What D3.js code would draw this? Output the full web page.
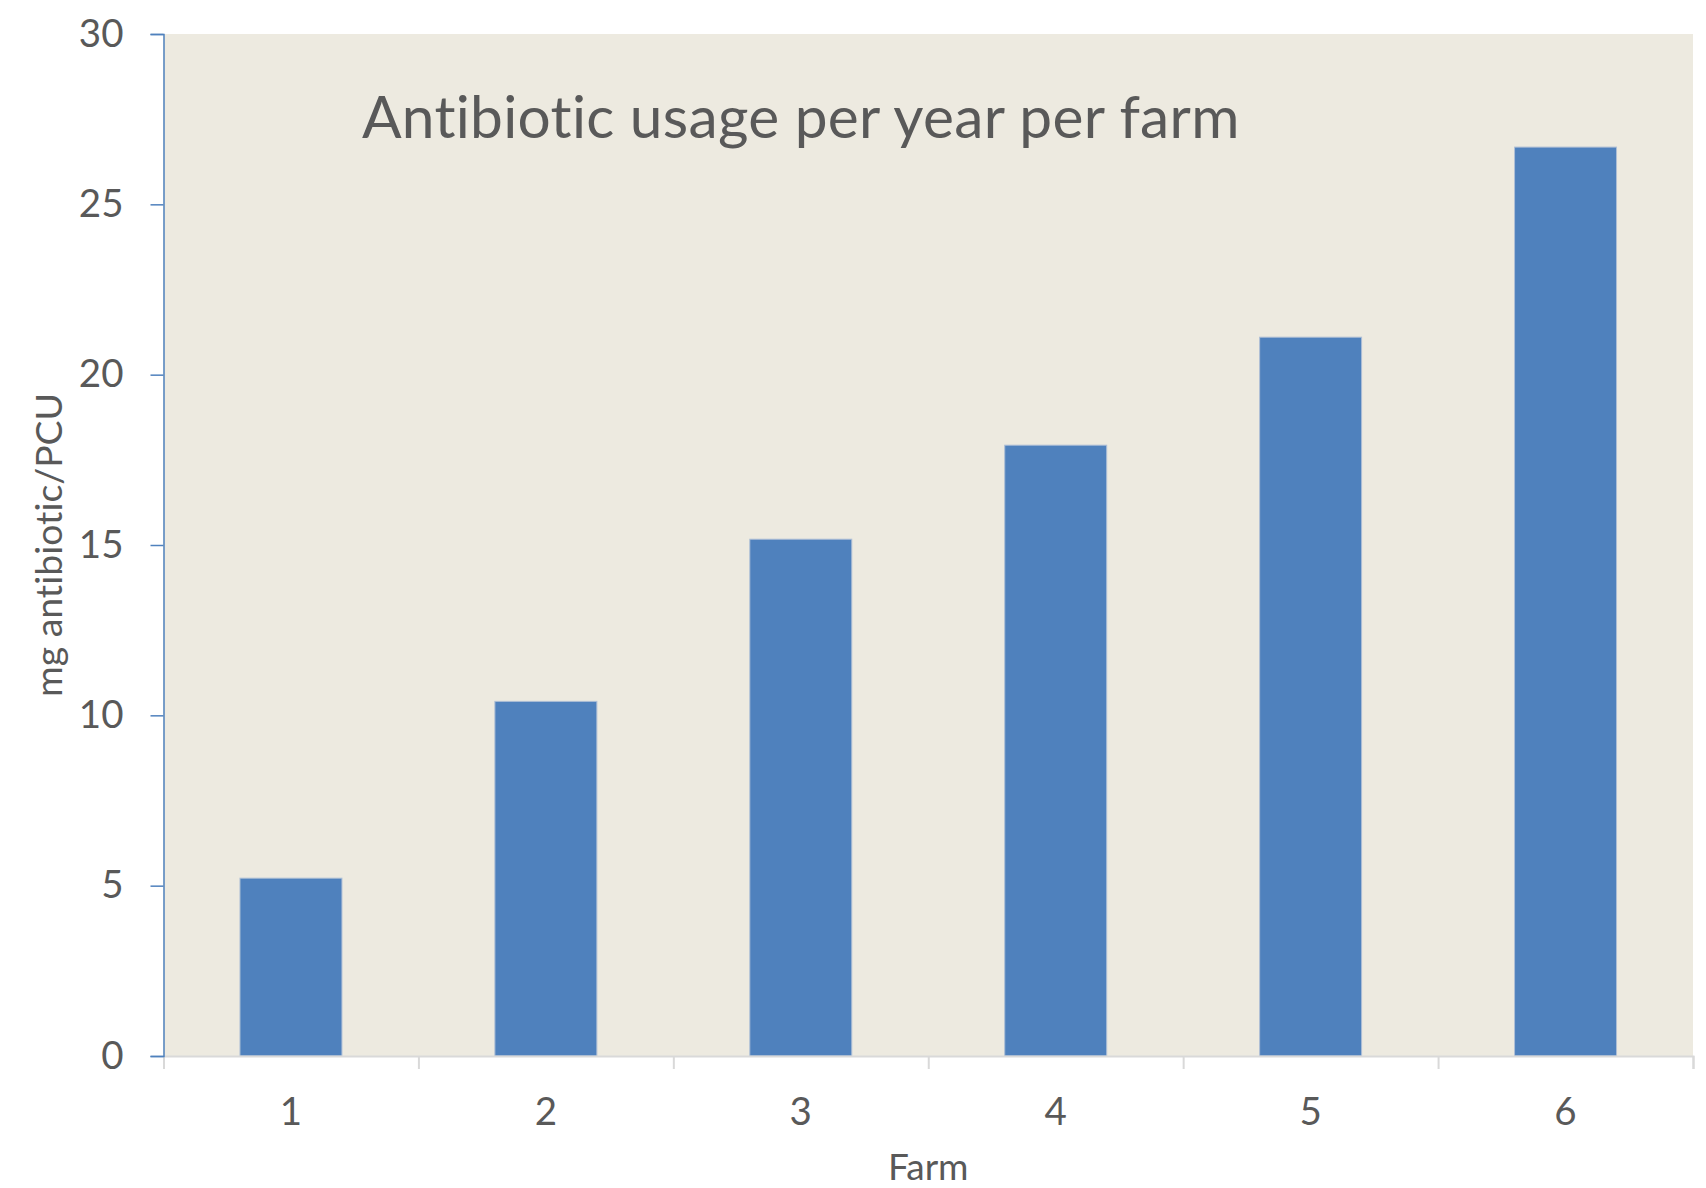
<!DOCTYPE html>
<html>
<head>
<meta charset="utf-8">
<script src="https://cdn.jsdelivr.net/npm/d3@7"></script>
<style>
  body { margin: 0; background: #fff; }
  text { font-family: Lato, "Open Sans", sans-serif; fill: #595959; font-variant-ligatures: none; }
</style>
</head>
<body>
<div id="chart"></div>
<script>
// chart data
const farms = ["1", "2", "3", "4", "5", "6"];
const usage = [5.22, 10.41, 15.17, 17.93, 21.10, 26.68];
const yTicks = [0, 5, 10, 15, 20, 25, 30];

const width = 1706, height = 1188;
const plot = { left: 163.5, right: 1693, top: 34, bottom: 1056 };

const svg = d3.select("#chart")
    .append("svg")
    .attr("width", width)
    .attr("height", height);

// plot area background
svg.append("rect")
    .attr("x", plot.left)
    .attr("y", plot.top)
    .attr("width", plot.right - plot.left)
    .attr("height", plot.bottom - plot.top)
    .attr("fill", "#EDEAE0");

const x = d3.scaleBand()
    .domain(farms)
    .range([plot.left, plot.right])
    .paddingInner(0.6)
    .paddingOuter(0.3);

const y = d3.scaleLinear()
    .domain([0, 30])
    .range([plot.bottom, plot.top]);

// bars
svg.append("g")
    .selectAll("rect")
    .data(usage)
    .join("rect")
    .attr("x", (d, i) => x(farms[i]))
    .attr("y", d => y(d))
    .attr("width", x.bandwidth())
    .attr("height", d => y(0) - y(d))
    .attr("fill", "#4F81BD")
    .attr("stroke", "#aebfd6")
    .attr("stroke-width", 1);

// x axis: gray line with ticks on the category boundaries
const xEdge = d3.scaleLinear().domain([0, farms.length]).range([plot.left, plot.right]);
const xTicks = svg.append("g")
    .attr("transform", `translate(0,${plot.bottom})`)
    .call(d3.axisBottom(xEdge).ticks(farms.length).tickSize(13).tickFormat(""));
xTicks.select(".domain").attr("stroke", "#D9D9D9").attr("stroke-width", 2);
xTicks.selectAll(".tick line").attr("stroke", "#D9D9D9").attr("stroke-width", 2);

const xLabels = svg.append("g")
    .attr("transform", `translate(0,${plot.bottom})`)
    .call(d3.axisBottom(x).tickSize(0));
xLabels.select(".domain").remove();
xLabels.selectAll("text")
    .attr("font-size", 38.5)
    .attr("dy", 0)
    .attr("y", 69);

// y axis
const yAxis = svg.append("g")
    .attr("transform", `translate(${plot.left},0)`)
    .call(d3.axisLeft(y).tickValues(yTicks).tickSize(13).tickPadding(27));
yAxis.select(".domain").attr("stroke", "#4F81BD").attr("stroke-width", 1.5);
yAxis.selectAll(".tick line").attr("stroke", "#4F81BD").attr("stroke-width", 1.5);
yAxis.selectAll("text").attr("font-size", 38.5);

// titles
svg.append("text")
    .attr("x", 362)
    .attr("y", 138)
    .attr("font-size", 58.6)
    .attr("letter-spacing", 0.3)
    .text("Antibiotic usage per year per farm");

svg.append("text")
    .attr("x", (plot.left + plot.right) / 2)
    .attr("y", 1180)
    .attr("text-anchor", "middle")
    .attr("font-size", 37)
    .text("Farm");

svg.append("text")
    .attr("transform", `translate(62,${(plot.top + plot.bottom) / 2}) rotate(-90)`)
    .attr("text-anchor", "middle")
    .attr("font-size", 37.4)
    .text("mg antibiotic/PCU");
</script>
</body>
</html>
